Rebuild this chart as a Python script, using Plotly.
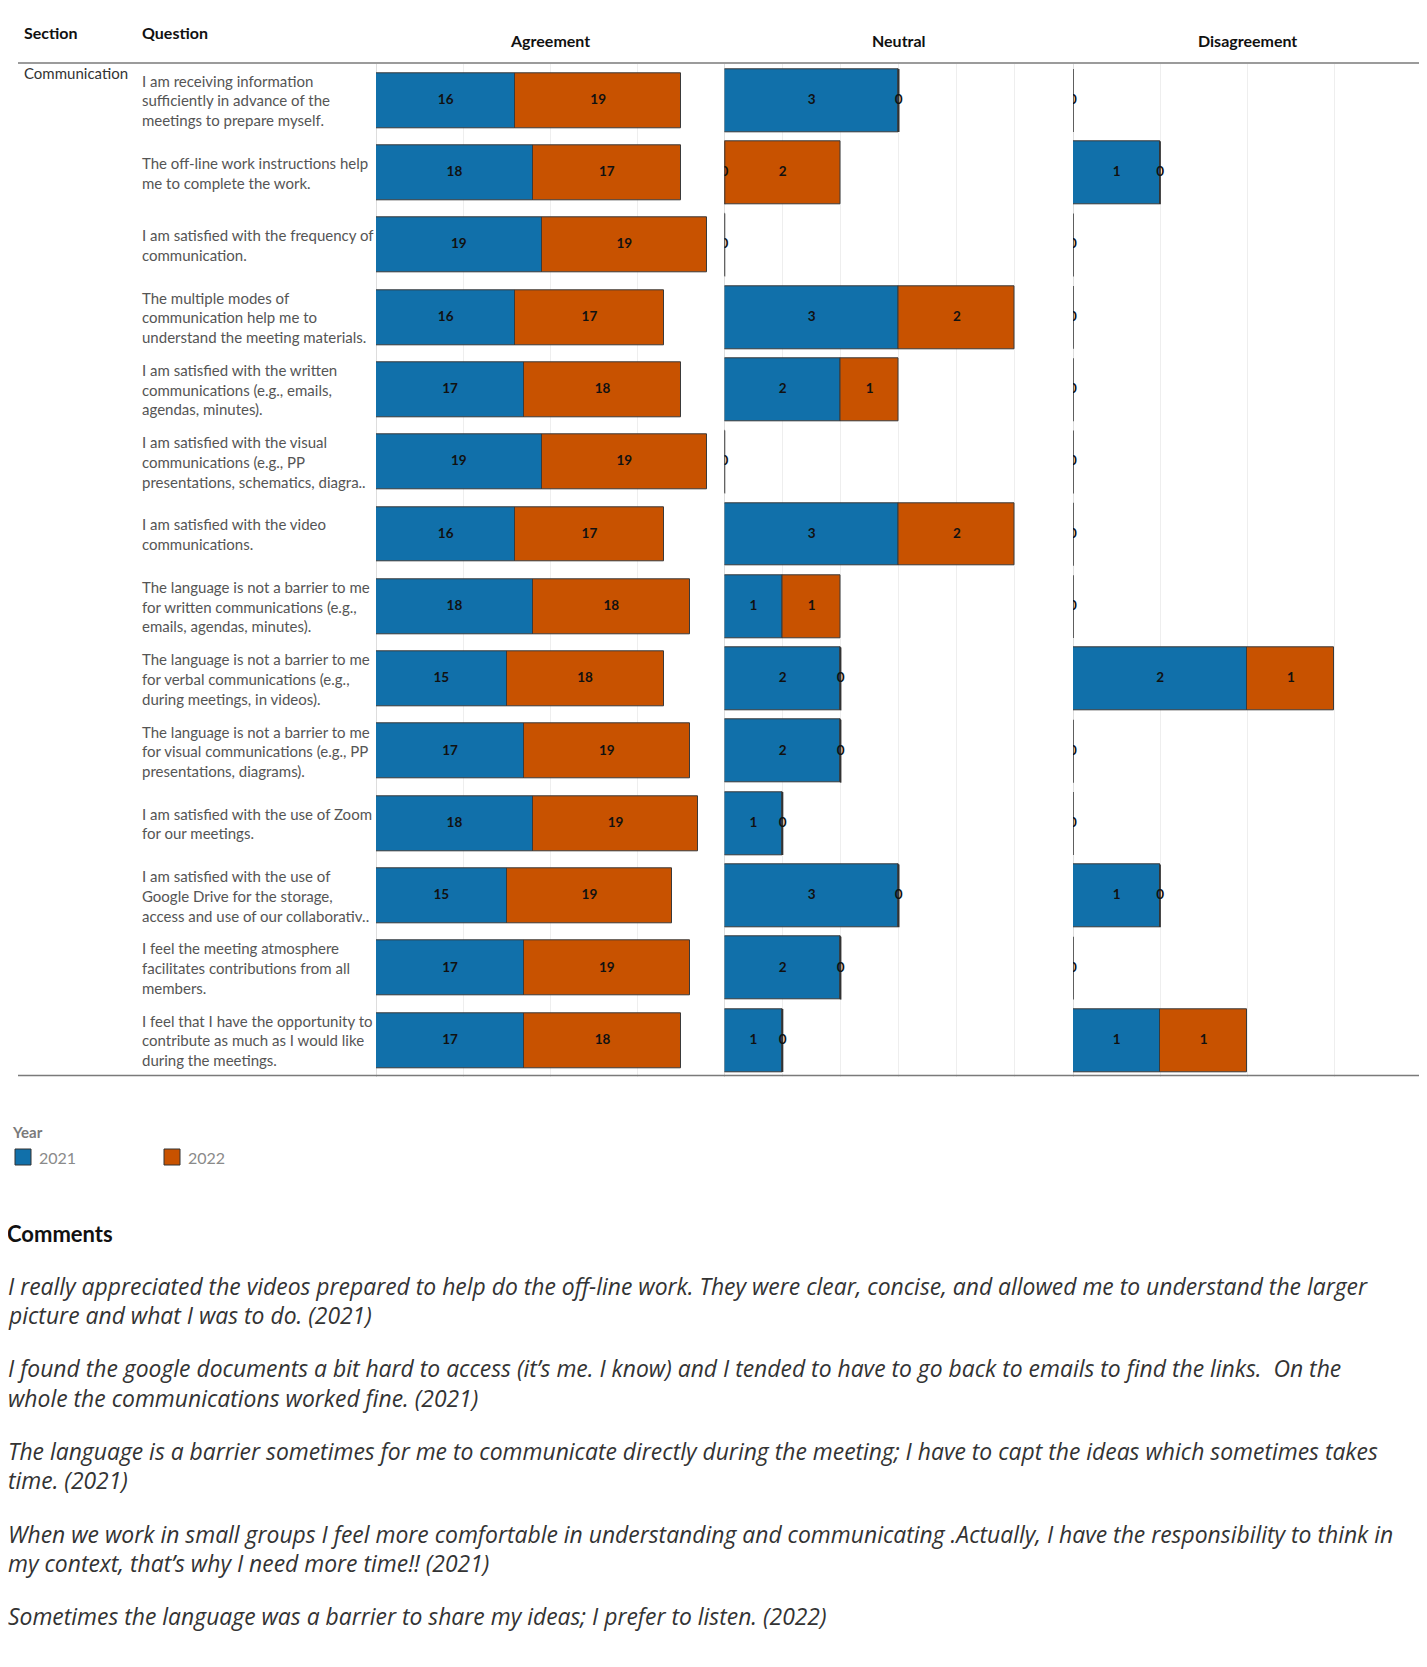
import plotly.graph_objects as go

# The page body has an 8px margin, so the figure is drawn 8px in from the
# top-left corner of the window; all pixel positions below are window pixels.
OFF = 8
W, H = 1419, 1651
FONT = "Lato"
CFONT = "Open Sans"

def px(x):
    return (x - OFF) / W

def py(y):
    return 1 - (y - OFF) / H

# ---------------- data ----------------
section = "Communication"
years = ["2021", "2022"]
year_colors = ["#1170AA", "#C85200"]
panel_titles = ["Agreement", "Neutral", "Disagreement"]

questions = [
    ["I am receiving information", "sufficiently in advance of the", "meetings to prepare myself."],
    ["The off-line work instructions help", "me to complete the work."],
    ["I am satisfied with the frequency of", "communication."],
    ["The multiple modes of", "communication help me to", "understand the meeting materials."],
    ["I am satisfied with the written", "communications (e.g., emails,", "agendas, minutes)."],
    ["I am satisfied with the visual", "communications (e.g., PP", "presentations, schematics, diagra.."],
    ["I am satisfied with the video", "communications."],
    ["The language is not a barrier to me", "for written communications (e.g.,", "emails, agendas, minutes)."],
    ["The language is not a barrier to me", "for verbal communications (e.g.,", "during meetings, in videos)."],
    ["The language is not a barrier to me", "for visual communications (e.g., PP", "presentations, diagrams)."],
    ["I am satisfied with the use of Zoom", "for our meetings."],
    ["I am satisfied with the use of", "Google Drive for the storage,", "access and use of our collaborativ.."],
    ["I feel the meeting atmosphere", "facilitates contributions from all", "members."],
    ["I feel that I have the opportunity to", "contribute as much as I would like", "during the meetings."],
]

agree_2021 = [16, 18, 19, 16, 17, 19, 16, 18, 15, 17, 18, 15, 17, 17]
agree_2022 = [19, 17, 19, 17, 18, 19, 17, 18, 18, 19, 19, 19, 19, 18]
neutral_2021 = [3, 0, 0, 3, 2, 0, 3, 1, 2, 2, 1, 3, 2, 1]
neutral_2022 = [0, 2, None, 2, 1, None, 2, 1, 0, 0, 0, 0, 0, 0]
disagree_2021 = [0, 1, 0, 0, 0, 0, 0, 0, 2, 0, 0, 1, 0, 1]
disagree_2022 = [None, 0, None, None, None, None, None, None, 1, None, None, 0, None, 1]

comment_lines = [
    "I really appreciated the videos prepared to help do the off-line work. They were clear, concise, and allowed me to understand the larger",
    "picture and what I was to do. (2021)",
    "I found the google documents a bit hard to access (it\u2019s me. I know) and I tended to have to go back to emails to find the links.  On the",
    "whole the communications worked fine. (2021)",
    "The language is a barrier sometimes for me to communicate directly during the meeting; I have to capt the ideas which sometimes takes",
    "time. (2021)",
    "When we work in small groups I feel more comfortable in understanding and communicating .Actually, I have the responsibility to think in",
    "my context, that\u2019s why I need more time!! (2021)",
    "Sometimes the language was a barrier to share my ideas; I prefer to listen. (2022)",
]
comment_y = [1286, 1315, 1368, 1398, 1451, 1480, 1534, 1563, 1616]

# ---------------- layout geometry ----------------
rows = list(range(len(questions)))
panels = [
    dict(v=[agree_2021, agree_2022], rmax=40, dtick=10, bw=0.76, x0=376, x1=724.5),
    dict(v=[neutral_2021, neutral_2022], rmax=6, dtick=1, bw=0.87, x0=724.5, x1=1073),
    dict(v=[disagree_2021, disagree_2022], rmax=4, dtick=1, bw=0.87, x0=1073, x1=1421.5),
]
plot_top, plot_bot = 64.3, 1076.6

fig = go.Figure()

for k, p in enumerate(panels):
    xa = "x" if k == 0 else f"x{k+1}"
    v21, v22 = p["v"]
    for yi, (vals, col, yr) in enumerate(zip([v21, v22], year_colors, years)):
        xs, ys, bases = [], [], []
        tx, ty, tt = [], [], []
        zx, zy = [], []
        for i in rows:
            v = vals[i]
            if v is None:
                continue
            b = 0 if yi == 0 else (v21[i] or 0)
            xs.append(v)
            ys.append(i)
            bases.append(b)
            tx.append(b + v / 2)
            ty.append(i)
            tt.append(str(v))
            if v == 0:
                zx += [b, b, None]
                zy += [i - p["bw"] / 2, i + p["bw"] / 2, None]
        fig.add_trace(go.Bar(
            x=xs, y=ys, base=bases, orientation="h", width=p["bw"],
            marker=dict(color=col, line=dict(color="#3a3a3a", width=1)),
            xaxis=xa, yaxis="y", showlegend=False, hoverinfo="skip",
        ))
        if zx:
            fig.add_trace(go.Scatter(
                x=zx, y=zy, mode="lines", line=dict(color="#333333", width=1.5),
                xaxis=xa, yaxis="y", showlegend=False, hoverinfo="skip",
            ))
        fig.add_trace(go.Scatter(
            x=tx, y=ty, text=tt, mode="text", cliponaxis=True,
            textfont=dict(family=FONT, size=13.5, color="#111111", weight="bold"),
            xaxis=xa, yaxis="y", showlegend=False, hoverinfo="skip",
        ))

axis_common = dict(showticklabels=False, ticks="", showgrid=True, gridcolor="#eeeeee",
                   gridwidth=1, zeroline=True, zerolinecolor="#dddddd", zerolinewidth=1,
                   showline=False, fixedrange=True, anchor="y")
layout_axes = {}
for k, p in enumerate(panels):
    name = "xaxis" if k == 0 else f"xaxis{k+1}"
    layout_axes[name] = dict(axis_common, domain=[px(p["x0"]), min(1.0, px(p["x1"]))],
                             range=[0, p["rmax"]], dtick=p["dtick"], tick0=0)

fig.update_layout(
    width=W, height=H, margin=dict(l=0, r=0, t=0, b=0),
    paper_bgcolor="white", plot_bgcolor="white",
    barmode="overlay", bargap=0,
    font=dict(family=FONT, color="#333333"),
    yaxis=dict(domain=[py(plot_bot), py(plot_top)], range=[len(rows) - 0.5, -0.5],
               showticklabels=False, showgrid=False, zeroline=False, ticks="",
               fixedrange=True),
    **layout_axes,
)

ann = []
shapes = []

# header texts
ann.append(dict(x=px(22), y=py(33), text="<b>Section</b>", xanchor="left", yanchor="middle",
                font=dict(size=16, color="#111111")))
ann.append(dict(x=px(140), y=py(33), text="<b>Question</b>", xanchor="left", yanchor="middle",
                font=dict(size=16, color="#111111")))
for t, p in zip(panel_titles, panels):
    ann.append(dict(x=px((p["x0"] + p["x1"]) / 2), y=py(40), text=f"<b>{t}</b>",
                    xanchor="center", yanchor="middle", font=dict(size=16, color="#111111")))

# header / footer rules
shapes.append(dict(type="line", xref="paper", yref="paper", x0=px(18), x1=px(1425),
                   y0=py(63), y1=py(63), line=dict(color="#7a7a7a", width=1.5)))
shapes.append(dict(type="line", xref="paper", yref="paper", x0=px(18), x1=px(1425),
                   y0=py(1075.5), y1=py(1075.5), line=dict(color="#7a7a7a", width=1.5)))

# section label
ann.append(dict(x=px(22), y=py(73), text=section, xanchor="left", yanchor="middle",
                font=dict(size=15, color="#333333")))

# question labels (one annotation per line, vertically centred on the row)
LH = 19.7
for i, lines in enumerate(questions):
    n = len(lines)
    for j, line in enumerate(lines):
        ann.append(dict(x=px(140), y=i, xref="paper", yref="y", text=line,
                        xanchor="left", yanchor="middle",
                        yshift=-(j - (n - 1) / 2) * LH,
                        font=dict(size=15, color="#555555")))

# legend
ann.append(dict(x=px(10), y=py(1132), text="<b>Year</b>", xanchor="left", yanchor="middle",
                font=dict(size=15, color="#7a7a7a")))
leg_x = [15, 164]
for yr, col, lx in zip(years, year_colors, leg_x):
    shapes.append(dict(type="rect", xref="paper", yref="paper", x0=px(lx), x1=px(lx + 16),
                       y0=py(1149), y1=py(1165), fillcolor=col,
                       line=dict(color="#333333", width=1)))
    ann.append(dict(x=px(lx + 22), y=py(1157), text=yr, xanchor="left", yanchor="middle",
                    font=dict(size=16, color="#8a8a8a")))

# comments
ann.append(dict(x=px(5), y=py(1233), text="<b>Comments</b>", xanchor="left", yanchor="middle",
                font=dict(size=22, color="#111111")))
for line, yy in zip(comment_lines, comment_y):
    ann.append(dict(x=px(6), y=py(yy), text=f"<i>{line}</i>", xanchor="left", yanchor="middle",
                    font=dict(family=CFONT, size=22.9, color="#333333")))

for a in ann:
    a.setdefault("xref", "paper")
    a.setdefault("yref", "paper")
    a["showarrow"] = False
fig.update_layout(annotations=ann, shapes=shapes)

fig.write_html("out.html")
